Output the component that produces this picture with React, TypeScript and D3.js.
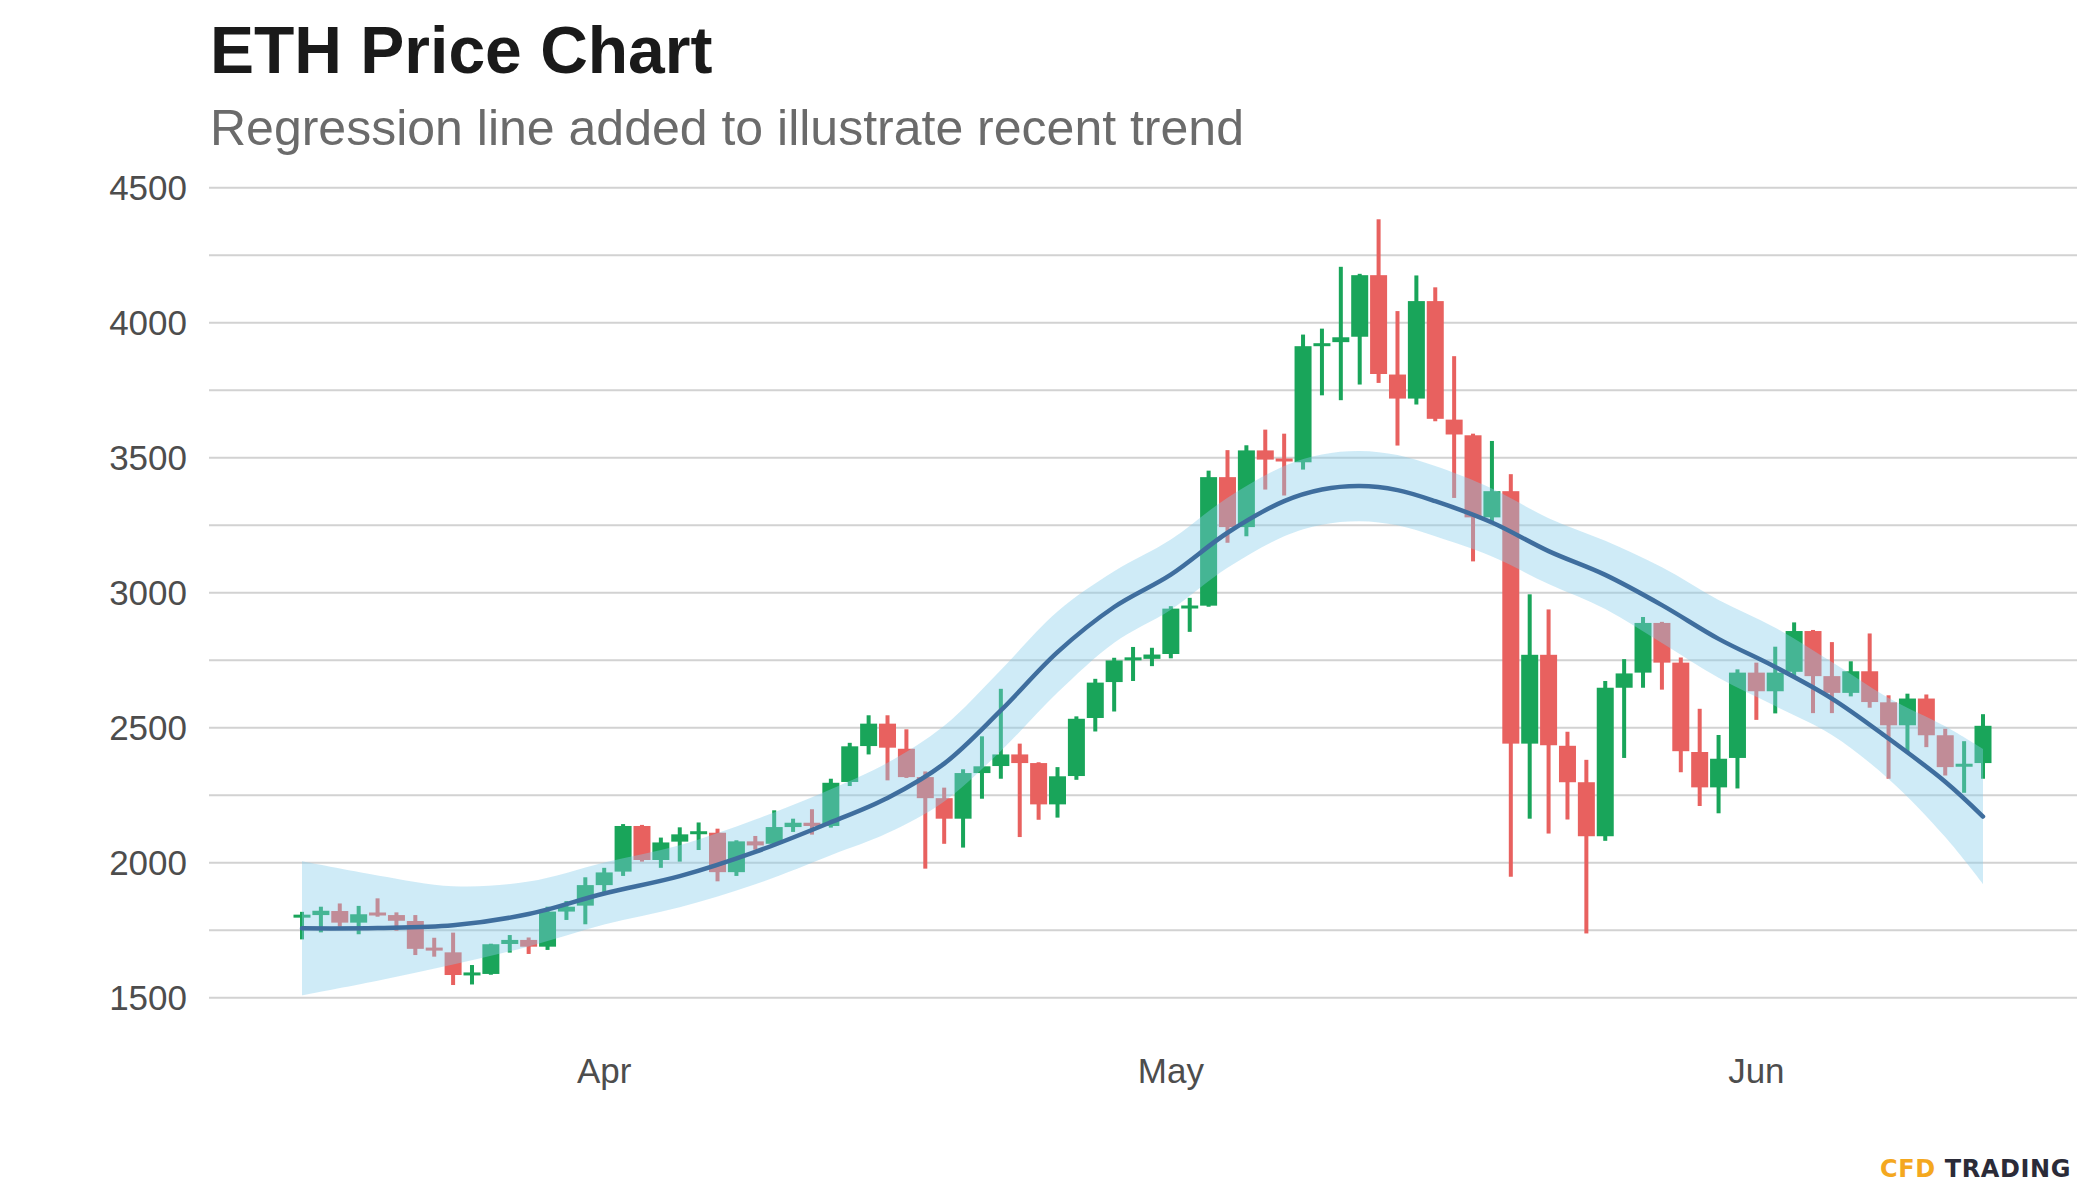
import React from 'react';
import * as d3 from 'd3';

// ---- Data (ETH daily candles) ----
const firstDay = new Date(Date.UTC(2021, 2, 16));
const lastDay = new Date(Date.UTC(2021, 5, 13));
const dates: Date[] = d3.utcDay.range(firstDay, d3.utcDay.offset(lastDay, 1));

const openP = [1800, 1806, 1821, 1778, 1812, 1806, 1784, 1682, 1668, 1586, 1588, 1699, 1714, 1689, 1819, 1841, 1917, 1967, 2136, 2010,
  2078, 2108, 2111, 1965, 2079, 2070, 2132, 2148, 2136, 2299, 2432, 2515, 2422, 2317, 2239, 2163, 2332, 2358, 2401, 2369,
  2216, 2321, 2536, 2669, 2750, 2755, 2773, 2944, 2952, 3428, 3243, 3527, 3495, 3483, 3915, 3928, 3948, 4176, 3808, 3719,
  4080, 3641, 3583, 3279, 3376, 2441, 2770, 2433, 2298, 2098, 2648, 2704, 2888, 2741, 2410, 2279, 2388, 2704, 2635, 2707,
  2858, 2691, 2629, 2709, 2594, 2509, 2608, 2472, 2358, 2369];
const highP = [1818, 1837, 1849, 1840, 1868, 1816, 1806, 1722, 1741, 1621, 1700, 1732, 1723, 1837, 1858, 1946, 1981, 2143, 2140, 2093,
  2131, 2149, 2126, 2083, 2099, 2194, 2163, 2198, 2311, 2444, 2546, 2546, 2494, 2338, 2278, 2346, 2468, 2644, 2441, 2372,
  2354, 2542, 2681, 2759, 2799, 2796, 2950, 2981, 3452, 3528, 3546, 3604, 3589, 3956, 3978, 4207, 4181, 4383, 4043, 4175,
  4131, 3876, 3589, 3562, 3439, 2994, 2938, 2485, 2381, 2673, 2754, 2910, 2892, 2760, 2570, 2473, 2716, 2741, 2800, 2890,
  2862, 2817, 2746, 2849, 2620, 2626, 2623, 2496, 2450, 2550];
const lowP = [1716, 1742, 1763, 1735, 1800, 1748, 1658, 1652, 1547, 1549, 1585, 1667, 1662, 1677, 1788, 1772, 1889, 1951, 2004, 1981,
  2004, 2047, 1931, 1951, 2048, 2064, 2114, 2104, 2130, 2284, 2401, 2305, 2314, 1978, 2070, 2056, 2237, 2311, 2095, 2159,
  2167, 2307, 2486, 2560, 2673, 2728, 2757, 2855, 2948, 3185, 3209, 3382, 3360, 3456, 3731, 3713, 3771, 3777, 3545, 3697,
  3635, 3351, 3116, 3260, 1948, 2163, 2108, 2160, 1738, 2081, 2388, 2648, 2641, 2335, 2210, 2183, 2275, 2529, 2553, 2688,
  2554, 2554, 2616, 2574, 2311, 2407, 2428, 2323, 2259, 2311];
const closeP = [1804, 1822, 1778, 1809, 1808, 1785, 1681, 1678, 1584, 1590, 1698, 1714, 1689, 1819, 1837, 1917, 1964, 2136, 2010, 2075,
  2105, 2114, 1965, 2079, 2064, 2132, 2148, 2136, 2296, 2431, 2515, 2426, 2317, 2239, 2163, 2332, 2357, 2401, 2369, 2216,
  2320, 2533, 2667, 2749, 2760, 2771, 2941, 2950, 3428, 3243, 3527, 3493, 3488, 3913, 3922, 3946, 4176, 3810, 3719, 4080,
  3644, 3586, 3279, 3376, 2441, 2770, 2435, 2298, 2098, 2648, 2701, 2888, 2741, 2413, 2279, 2385, 2704, 2635, 2704, 2858,
  2691, 2629, 2709, 2595, 2509, 2608, 2472, 2354, 2364, 2507];

// Regression (smoothed) trend with its confidence band, sampled at day offsets
const trendDay = [0, 4, 8, 12, 16, 20, 24, 28, 31, 34, 37, 40, 43, 46, 49, 52, 54, 56, 58, 60, 63, 66, 69, 72, 75, 78, 81, 84, 87, 89];
const trendFit = [1757, 1758, 1768, 1810, 1886, 1950, 2040, 2150, 2240, 2367, 2564, 2780, 2947, 3067, 3222, 3339, 3382, 3395, 3380, 3339,
  3260, 3154, 3066, 2954, 2829, 2725, 2608, 2460, 2300, 2171];
const trendHalf = [248, 195, 145, 120, 115, 115, 120, 122, 130, 140, 150, 150, 132, 130, 130, 130, 130, 130, 130, 130,
  126, 122, 126, 140, 144, 145, 135, 150, 205, 250];

const gridValues = [1500, 1750, 2000, 2250, 2500, 2750, 3000, 3250, 3500, 3750, 4000, 4250, 4500];
const yLabelValues = [1500, 2000, 2500, 3000, 3500, 4000, 4500];
const monthTicks = [new Date(Date.UTC(2021, 3, 1)), new Date(Date.UTC(2021, 4, 1)), new Date(Date.UTC(2021, 5, 1))];
const monthLabels = ['Apr', 'May', 'Jun'];

const title = 'ETH Price Chart';
const subtitle = 'Regression line added to illustrate recent trend';

export default function App() {
  const W = 2100, H = 1200;
  const plotLeft = 209, plotRight = 2077;
  const x = d3.scaleUtc().domain([dates[0], dates[dates.length - 1]]).range([302, 1983]);
  const y = d3.scaleLinear().domain([1500, 4500]).range([997.7, 187.7]);
  const green = '#19a55a', red = '#e8615f';
  const bodyW = 17, wickW = 4;
  const font = '"Liberation Sans", Arial, Helvetica, sans-serif';

  const idx = d3.range(trendDay.length);
  const band = d3.area<number>()
    .x(k => x(dates[trendDay[k]]))
    .y0(k => y(trendFit[k] - trendHalf[k]))
    .y1(k => y(trendFit[k] + trendHalf[k]))
    .curve(d3.curveCatmullRom.alpha(0.5));
  const line = d3.line<number>()
    .x(k => x(dates[trendDay[k]]))
    .y(k => y(trendFit[k]))
    .curve(d3.curveCatmullRom.alpha(0.5));

  return (
    <svg width={W} height={H} style={{ position: 'absolute', left: 0, top: 0, background: '#fff' }} fontFamily={font}>
      <rect x={0} y={0} width={W} height={H} fill="#fff" />
      <text x={210} y={73} fontSize={66} fontWeight="bold" fill="#1a1a1a">{title}</text>
      <text x={210} y={145} fontSize={50} fill="#6b6b6b">{subtitle}</text>

      {gridValues.map(v => (
        <line key={v} x1={plotLeft} x2={plotRight} y1={y(v)} y2={y(v)} stroke="#d2d2d2" strokeWidth={2} />
      ))}
      {yLabelValues.map(v => (
        <text key={v} x={187} y={y(v)} dy="0.36em" textAnchor="end" fontSize={35} fill="#4d4d4d">{v}</text>
      ))}
      {monthTicks.map((d, i) => (
        <text key={i} x={x(d)} y={1083} textAnchor="middle" fontSize={35} fill="#4d4d4d">{monthLabels[i]}</text>
      ))}

      <g>
        {dates.map((d, i) => {
          const o = openP[i], c = closeP[i], hi = highP[i], lo = lowP[i];
          const col = c >= o ? green : red;
          const cx = x(d);
          const top = y(Math.max(o, c));
          const bot = y(Math.min(o, c));
          const h = Math.max(3, bot - top);
          const yy = h === 3 ? (top + bot) / 2 - 1.5 : top;
          return (
            <g key={i}>
              <rect x={cx - wickW / 2} y={y(hi)} width={wickW} height={y(lo) - y(hi)} fill={col} />
              <rect x={cx - bodyW / 2} y={yy} width={bodyW} height={h} fill={col} />
            </g>
          );
        })}
      </g>

      <path d={band(idx) || ''} fill="rgb(135,206,235)" fillOpacity={0.4} />
      <path d={line(idx) || ''} fill="none" stroke="#3f6e9e" strokeWidth={4.5} strokeLinecap="round" />

      <text x={2071} y={1177} textAnchor="end" fontSize={24} fontWeight="bold" letterSpacing={0.6}
        fontFamily='"DejaVu Sans", sans-serif'>
        <tspan fill="#f4a81f">CFD </tspan>
        <tspan fill="#2b2b38">TRADING</tspan>
      </text>
    </svg>
  );
}
